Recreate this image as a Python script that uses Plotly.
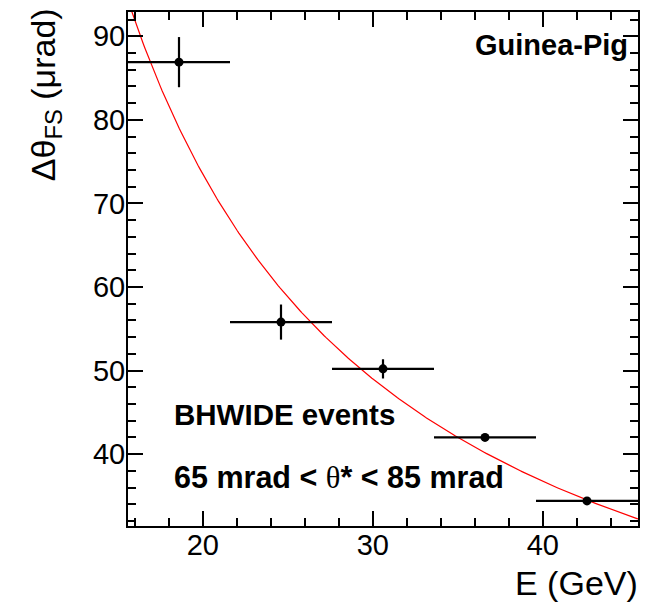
import numpy as np
import plotly.graph_objects as go

# Data
energy = [18.6, 24.6, 30.6, 36.6, 42.6]          # GeV (bin centres)
energy_halfwidth = [3.0, 3.0, 3.0, 3.0, 3.0]     # GeV
dtheta = [86.9, 55.8, 50.2, 42.0, 34.4]          # µrad
dtheta_err = [3.0, 2.1, 1.15, 0.3, 0.25]         # µrad
fit_A = 1470.0                                   # fit: dtheta = A / E
x_range = [15.6, 45.6]
y_range = [31.4, 92.9]
x_ticks = [20, 30, 40]
y_ticks = [40, 50, 60, 70, 80, 90]

FONT = "Liberation Sans, Arial, Helvetica, sans-serif"

fig = go.Figure()

xf = np.linspace(x_range[0], x_range[1], 300)
fig.add_trace(go.Scatter(x=xf, y=fit_A / xf, mode="lines",
                         line=dict(color="red", width=1.2), hoverinfo="skip"))

fig.add_trace(go.Scatter(
    x=energy, y=dtheta, mode="markers",
    marker=dict(color="black", size=9),
    error_x=dict(type="data", array=energy_halfwidth, color="black", thickness=2.2, width=0),
    error_y=dict(type="data", array=dtheta_err, color="black", thickness=2.2, width=0),
))

axis_common = dict(
    showgrid=False, zeroline=False, showline=True, linecolor="black", linewidth=2,
    mirror="ticks", ticks="inside", ticklen=15, tickwidth=1.5, tickcolor="black",
    tickfont=dict(family=FONT, size=29, color="black"),
)

fig.update_xaxes(range=x_range, tickvals=x_ticks, ticktext=[str(v) for v in x_ticks],
                 minor=dict(ticks="inside", ticklen=8, dtick=2, tick0=0, tickwidth=1.5,
                            tickcolor="black"),
                 ticklabelstandoff=-8,
                 **axis_common)
fig.update_yaxes(range=y_range, tickvals=y_ticks, ticktext=[str(v) for v in y_ticks],
                 minor=dict(ticks="inside", ticklen=8, dtick=2, tick0=0, tickwidth=1.5,
                            tickcolor="black"),
                 ticklabelstandoff=-5,
                 **axis_common)

annotations = [
    dict(text="<b>Guinea-Pig</b>", x=0.984, y=0.935, xanchor="right", yanchor="middle",
         font=dict(family=FONT, size=29, color="black")),
    dict(text="<b>BHWIDE events</b>", x=0.087, y=0.217, xanchor="left", yanchor="middle",
         font=dict(family=FONT, size=29.5, color="black")),
    dict(text="<b>65 mrad &lt; </b><span style=\"font-family:Liberation Serif\">θ</span><b>* &lt; 85 mrad</b>",
         x=0.087, y=0.095, xanchor="left", yanchor="middle",
         font=dict(family=FONT, size=30.5, color="black")),
    dict(text="E (GeV)", x=1.004, y=-0.111, xanchor="right", yanchor="middle",
         font=dict(family=FONT, size=34, color="black")),
    dict(text="Δθ<sub>FS</sub> (μrad)", x=-0.163, y=1.012, xanchor="center", yanchor="top",
         textangle=-90, font=dict(family=FONT, size=34, color="black")),
]
for a in annotations:
    a.update(xref="paper", yref="paper", showarrow=False)

# The page body has an 8 px default margin, so the figure is 8 px smaller
# and the margins are shifted to keep the plot frame where the reference has it.
fig.update_layout(
    width=642, height=596,
    margin=dict(l=120, r=12, t=2, b=78),
    paper_bgcolor="white", plot_bgcolor="white",
    showlegend=False,
    annotations=annotations,
    font=dict(family=FONT),
)

fig.write_html("out.html")
